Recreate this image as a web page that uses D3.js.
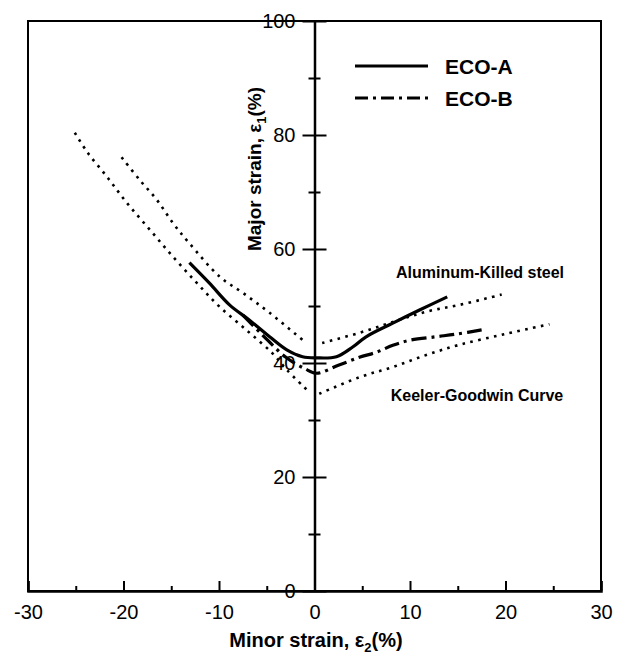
<!DOCTYPE html>
<html><head><meta charset="utf-8">
<script src="https://cdn.jsdelivr.net/npm/d3@7"></script>
<style>body{margin:0;background:#fff} text{font-family:"Liberation Sans",Arial,sans-serif;fill:#000}</style>
</head><body><svg id="c" width="623" height="658"></svg>
<script>
const xTicks=[-30,-20,-10,0,10,20,30];
const xMinor=[-25,-15,-5,5,15,25];
const yTicks=[0,20,40,60,80,100];
const yMinor=[10,30,50,70,90];
const ecoA=[[-13.1,57.6],[-11,54],[-8.9,50.2],[-6.8,47.5],[-4.7,44.6],[-2.9,42.3],[-1.25,41.1],[0.2,40.9],[2.3,41.1],[4,42.8],[5.4,44.6],[8.2,47],[11,49.3],[13.9,51.6]];
const ecoB=[[-7.5,48.4],[-5.5,45],[-3,41],[-1,39],[0.2,38.2],[2.5,39.6],[4.7,41],[6.5,41.9],[8.2,43.1],[10,44],[12.7,44.6],[15,45.1],[17.5,45.8]];
const akLeft=[[-20.2,76.1],[-18.3,72.1],[-16.5,68.6],[-14.8,64.5],[-13.1,61],[-9.9,55.1],[-7.5,52.3],[-4.7,48.8],[-1,43.7]];
const akRight=[[0.8,43.5],[4.7,45.3],[8.2,47.2],[11.7,49],[15.2,50.2],[19.6,52]];
const kgLeft=[[-25.1,80.4],[-23.8,77],[-21.7,72.6],[-19.6,68],[-17.2,63.3],[-14.8,58.6],[-12.3,54],[-9.9,49.8],[-7,45.6],[-4.4,41.7],[-2.9,38.8],[-0.8,35.3]];
const kgRight=[[0.5,34.6],[4.7,37.5],[8.2,39.3],[11.7,41.4],[15.2,43.2],[20,45.1],[24.6,46.8]];
const series=[{name:"ECO-A",data:ecoA,dash:null},{name:"ECO-B",data:ecoB,dash:"15,5,3,5"}];
const refCurves=[akLeft,akRight,kgLeft,kgRight];
const refLabels=["Aluminum-Killed steel","Keeler-Goodwin Curve"];

const svg=d3.select("#c");
const x=d3.scaleLinear().domain([-30,30]).range([28,601]);
const y=d3.scaleLinear().domain([0,100]).range([591,21]);
const line=d3.line().x(d=>x(d[0])).y(d=>y(d[1])).curve(d3.curveCatmullRom.alpha(0.5));
const fmt=d=>String(d);

// frame
svg.append("rect").attr("x",x(-30)).attr("y",y(100)).attr("width",x(30)-x(-30)).attr("height",y(0)-y(100))
  .attr("fill","none").attr("stroke","#000").attr("stroke-width",2);

// bottom axis (ticks inside)
const gx=svg.append("g").attr("transform",`translate(0,${y(0)})`)
  .call(d3.axisBottom(x).tickValues(xTicks).tickSize(-10).tickPadding(22).tickFormat(fmt));
gx.select(".domain").attr("stroke-width",2.5);
gx.selectAll(".tick line").attr("stroke-width",2);
gx.selectAll(".tick text").attr("font-size",20).attr("font-family","Liberation Sans, Arial, sans-serif").attr("dy","0.3em");
const gxm=svg.append("g").attr("transform",`translate(0,${y(0)})`)
  .call(d3.axisBottom(x).tickValues(xMinor).tickSize(-5).tickFormat(""));
gxm.select(".domain").remove();
gxm.selectAll(".tick line").attr("stroke-width",2);

// y axis at x=0 with crossing ticks
const gy=svg.append("g").attr("transform",`translate(${x(0)},0)`)
  .call(d3.axisLeft(y).tickValues(yTicks).tickSize(0).tickPadding(19).tickFormat(fmt));
gy.select(".domain").attr("stroke-width",2.5);
gy.selectAll(".tick text").attr("font-size",20).attr("font-family","Liberation Sans, Arial, sans-serif");
gy.selectAll(".tick").append("line").attr("x1",-12).attr("x2",12).attr("stroke","#000").attr("stroke-width",2);
const gym=svg.append("g").attr("transform",`translate(${x(0)},0)`)
  .call(d3.axisLeft(y).tickValues(yMinor).tickSize(0).tickFormat(""));
gym.select(".domain").remove();
gym.selectAll(".tick").append("line").attr("x1",-6).attr("x2",6).attr("stroke","#000").attr("stroke-width",2);

// reference dotted curves
svg.append("g").selectAll("path").data(refCurves).join("path")
  .attr("d",line).attr("fill","none").attr("stroke","#000").attr("stroke-width",2.6)
  .attr("stroke-dasharray","2.6,5.4");

// series
svg.append("g").selectAll("path").data(series).join("path")
  .attr("d",d=>line(d.data)).attr("fill","none").attr("stroke","#000").attr("stroke-width",3.2)
  .attr("stroke-dasharray",d=>d.dash);

// legend
const lg=svg.append("g");
series.forEach((s,i)=>{
  const ly=66+i*32;
  lg.append("line").attr("x1",355).attr("x2",428).attr("y1",ly).attr("y2",ly)
    .attr("stroke","#000").attr("stroke-width",3).attr("stroke-dasharray",s.dash?"13,5,3,5":null);
  lg.append("text").attr("x",445).attr("y",ly+7.5).attr("font-size",21).attr("font-weight","bold").text(s.name);
});

// annotations
svg.append("text").attr("x",480).attr("y",278).attr("text-anchor","middle").attr("font-size",16).attr("font-weight","bold").text(refLabels[0]);
svg.append("text").attr("x",477).attr("y",401).attr("text-anchor","middle").attr("font-size",16).attr("font-weight","bold").text(refLabels[1]);

// axis titles
const xt=svg.append("text").attr("x",316).attr("y",647).attr("text-anchor","middle").attr("font-size",20).attr("font-weight","bold");
xt.append("tspan").text("Minor strain, ε");
xt.append("tspan").attr("font-size",13).attr("dy",5).text("2");
xt.append("tspan").attr("dy",-5).text("(%)");
const yt=svg.append("text").attr("transform","translate(261,169) rotate(-90)").attr("text-anchor","middle").attr("font-size",19).attr("font-weight","bold");
yt.append("tspan").text("Major strain,  ε");
yt.append("tspan").attr("font-size",13).attr("dy",5).text("1");
yt.append("tspan").attr("dy",-5).text("(%)");
</script></body></html>
